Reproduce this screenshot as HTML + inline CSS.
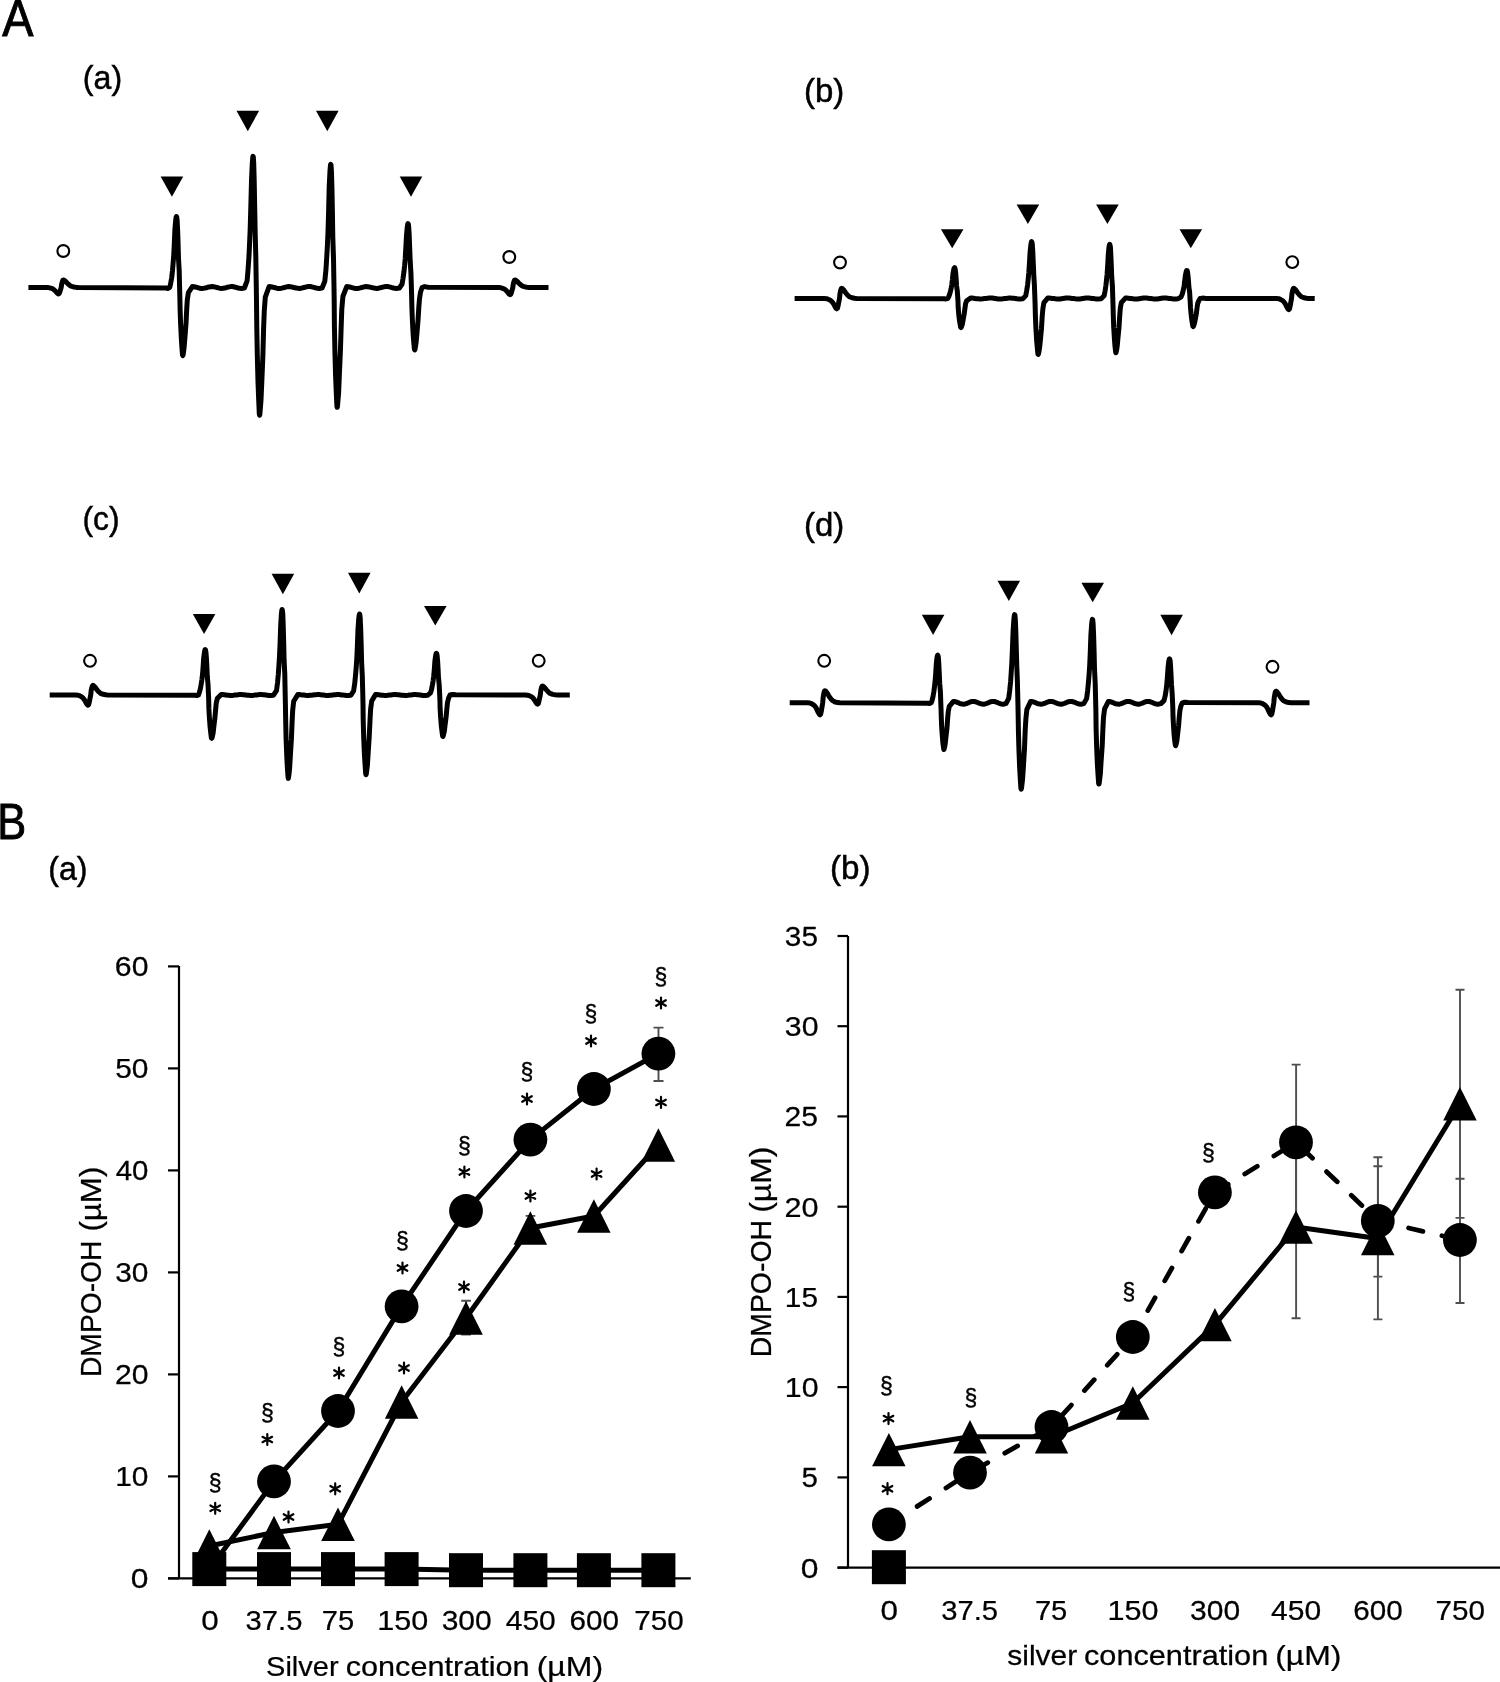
<!DOCTYPE html>
<html><head><meta charset="utf-8"><title>Figure</title>
<style>
html,body{margin:0;padding:0;background:#fff;}
body{width:1500px;height:1682px;overflow:hidden;font-family:"Liberation Sans",sans-serif;}
svg{display:block;will-change:transform;transform:translateZ(0);}
</style></head><body>
<svg width="1500" height="1682" viewBox="0 0 1500 1682" font-family="Liberation Sans, sans-serif" fill="#000">
<rect width="1500" height="1682" fill="#fff"/>
<path d="M28.4,287.5 L46.0,287.5 L48.3,287.6 L49.7,287.9 L52.4,288.7 L53.8,289.6 L55.0,290.6 L56.6,292.5 L57.7,293.6 L58.5,294.0 L59.2,293.5 L59.8,292.1 L60.4,290.1 L61.2,287.5 L61.7,283.9 L62.5,281.2 L63.0,280.2 L63.3,280.0 L64.1,280.2 L65.7,281.5 L67.1,283.0 L68.4,284.3 L69.7,285.3 L71.0,286.1 L73.7,287.0 L76.3,287.4 L78.3,287.5 L166.2,288.0 L168.1,288.5 L169.7,287.5 L170.6,283.9 L171.7,277.6 L172.5,270.5 L173.1,263.4 L173.7,255.6 L174.3,244.2 L174.9,229.6 L175.7,220.1 L176.2,216.9 L176.4,216.5 L176.7,216.9 L177.1,220.1 L177.6,229.6 L178.1,244.2 L178.5,258.6 L179.2,270.7 L179.6,287.5 L179.8,295.1 L180.1,309.3 L180.6,323.6 L181.3,337.9 L181.9,347.4 L182.5,354.9 L182.8,355.6 L183.1,354.9 L183.5,352.2 L184.1,347.4 L184.9,337.9 L186.0,323.6 L186.7,309.3 L187.3,299.8 L188.4,292.6 L192.3,286.6 L193.8,286.7 L195.4,287.0 L196.9,287.4 L198.4,287.8 L200.0,288.2 L201.5,288.4 L203.0,288.4 L204.6,288.1 L206.1,287.8 L207.6,287.3 L209.2,286.9 L210.7,286.7 L212.2,286.6 L213.8,286.8 L215.3,287.1 L216.9,287.5 L218.4,287.9 L219.9,288.2 L221.5,288.4 L223.0,288.3 L224.5,288.1 L226.1,287.7 L227.6,287.2 L229.1,286.9 L230.7,286.6 L232.2,286.6 L233.7,286.8 L235.3,287.2 L236.8,287.6 L238.3,288.0 L239.9,288.3 L241.4,288.4 L244.4,288.0 L247.1,280.9 L248.1,269.1 L249.0,256.0 L249.6,242.9 L250.2,228.5 L250.8,207.5 L251.5,180.6 L252.3,162.9 L252.8,157.0 L253.0,156.3 L253.3,157.0 L253.7,162.9 L254.2,180.6 L254.7,207.5 L255.2,234.1 L255.8,256.4 L256.3,287.5 L256.5,301.7 L256.8,328.4 L257.3,355.2 L258.0,382.1 L258.7,400.0 L259.3,414.0 L259.6,415.3 L259.9,414.0 L260.3,408.9 L261.0,400.0 L261.8,382.1 L262.9,355.2 L263.6,328.4 L264.3,310.5 L265.3,297.1 L269.1,286.6 L270.6,286.7 L272.1,287.0 L273.6,287.4 L275.2,287.8 L276.7,288.2 L278.2,288.4 L279.7,288.4 L281.2,288.2 L282.7,287.9 L284.3,287.5 L285.8,287.1 L287.3,286.7 L288.8,286.6 L290.3,286.7 L291.8,286.9 L293.3,287.3 L294.9,287.7 L296.4,288.1 L297.9,288.3 L299.4,288.4 L300.9,288.3 L302.4,287.9 L303.9,287.5 L305.5,287.1 L307.0,286.8 L308.5,286.6 L310.0,286.6 L311.5,286.8 L313.0,287.2 L314.6,287.6 L316.1,288.0 L317.6,288.3 L319.1,288.4 L322.1,288.0 L324.8,281.3 L325.9,270.3 L326.7,257.9 L327.4,245.6 L328.0,232.1 L328.6,212.3 L329.2,187.1 L330.0,170.5 L330.5,164.9 L330.7,164.3 L331.0,164.9 L331.4,170.5 L331.9,187.1 L332.4,212.3 L332.8,237.4 L333.5,258.3 L334.0,287.5 L334.2,300.8 L334.4,325.8 L334.9,351.0 L335.6,376.2 L336.3,392.9 L336.9,406.1 L337.2,407.3 L337.5,406.1 L337.9,401.3 L338.6,392.9 L339.3,376.2 L340.4,351.0 L341.2,325.8 L341.8,309.1 L342.9,296.5 L346.7,286.6 L348.2,286.7 L349.7,287.0 L351.2,287.4 L352.7,287.8 L354.2,288.2 L355.7,288.4 L357.2,288.4 L358.7,288.2 L360.3,287.9 L361.8,287.5 L363.3,287.1 L364.8,286.7 L366.3,286.6 L367.8,286.7 L369.3,286.9 L370.8,287.3 L372.3,287.7 L373.8,288.1 L375.3,288.3 L376.8,288.4 L378.3,288.3 L379.8,287.9 L381.3,287.5 L382.8,287.1 L384.4,286.8 L385.9,286.6 L387.4,286.6 L388.9,286.8 L390.4,287.2 L391.9,287.6 L393.4,288.0 L394.9,288.3 L396.4,288.4 L399.4,288.0 L402.0,284.3 L403.0,278.6 L403.9,272.2 L404.6,265.8 L405.2,258.7 L405.8,248.5 L406.5,235.4 L407.3,226.8 L407.8,223.9 L408.0,223.6 L408.3,223.9 L408.7,226.8 L409.2,235.4 L409.7,248.5 L410.2,261.5 L410.9,272.4 L411.4,287.5 L411.6,294.4 L411.9,307.5 L412.4,320.6 L413.1,333.8 L413.8,342.5 L414.4,349.4 L414.7,350.0 L415.0,349.4 L415.4,346.9 L416.1,342.5 L416.9,333.8 L418.0,320.6 L418.8,307.5 L419.5,298.8 L420.5,292.2 L422.1,287.5 L424.6,286.6 L428.1,287.2 L497.6,287.5 L499.9,287.6 L501.3,287.9 L504.0,288.8 L505.4,289.8 L506.6,290.9 L508.2,293.0 L509.3,294.2 L510.1,294.6 L510.8,294.1 L511.4,292.5 L512.0,290.3 L512.8,287.5 L513.3,283.9 L514.1,281.2 L514.6,280.2 L514.9,280.0 L515.7,280.2 L517.3,281.5 L518.7,283.0 L520.0,284.3 L521.3,285.3 L522.6,286.1 L525.3,287.0 L527.9,287.4 L529.9,287.5 L548.5,287.5" fill="none" stroke="#000" stroke-width="5.0" stroke-linejoin="round" stroke-linecap="butt"/>
<polygon points="160.6,176.6 183.2,176.6 171.9,196.8" fill="#000"/>
<polygon points="236.5,110.8 259.1,110.8 247.8,131.2" fill="#000"/>
<polygon points="316.0,110.8 338.6,110.8 327.3,131.2" fill="#000"/>
<polygon points="399.7,176.6 422.3,176.6 411.0,196.8" fill="#000"/>
<circle cx="63.3" cy="251.0" r="5.9" fill="#fff" stroke="#000" stroke-width="2.1"/>
<circle cx="509.3" cy="257.0" r="5.9" fill="#fff" stroke="#000" stroke-width="2.1"/>
<path d="M794.6,298.5 L824.3,298.5 L826.6,298.7 L828.0,299.1 L830.7,300.5 L832.1,301.8 L833.3,303.4 L834.9,306.4 L836.0,308.2 L836.8,308.8 L837.5,308.1 L838.1,305.7 L838.7,302.6 L839.5,298.5 L840.0,293.6 L840.8,289.9 L841.3,288.6 L841.6,288.3 L842.4,288.6 L844.0,290.3 L845.4,292.4 L846.7,294.1 L848.0,295.5 L849.3,296.7 L852.0,297.8 L854.6,298.3 L856.6,298.5 L944.1,298.7 L946.0,298.9 L947.7,298.5 L948.6,297.0 L949.7,294.2 L950.5,291.1 L951.2,288.0 L951.8,284.6 L952.4,279.7 L953.0,273.4 L953.8,269.2 L954.3,267.9 L954.5,267.7 L954.8,267.9 L955.2,269.2 L955.7,273.4 L956.2,279.7 L956.6,286.0 L957.3,291.2 L957.8,298.5 L958.0,301.7 L958.2,307.8 L958.7,313.9 L959.4,320.0 L960.1,324.0 L960.7,327.2 L961.0,327.5 L961.3,327.2 L961.7,326.1 L962.4,324.0 L963.1,320.0 L964.2,313.9 L965.0,307.8 L965.6,303.7 L966.7,300.7 L970.5,298.1 L972.0,298.1 L973.6,298.2 L975.1,298.5 L976.7,298.7 L978.2,298.8 L979.8,298.9 L981.3,298.9 L982.9,298.8 L984.4,298.6 L986.0,298.4 L987.5,298.2 L989.1,298.1 L990.6,298.1 L992.2,298.1 L993.7,298.3 L995.2,298.5 L996.8,298.7 L998.3,298.9 L999.9,298.9 L1001.4,298.9 L1003.0,298.8 L1004.5,298.6 L1006.1,298.4 L1007.6,298.2 L1009.2,298.1 L1010.7,298.1 L1012.3,298.2 L1013.8,298.3 L1015.4,298.5 L1016.9,298.8 L1018.5,298.9 L1020.0,298.9 L1023.0,298.7 L1025.7,295.7 L1026.7,290.5 L1027.6,284.8 L1028.2,279.2 L1028.8,272.9 L1029.4,263.8 L1030.1,252.1 L1030.9,244.4 L1031.4,241.9 L1031.6,241.6 L1031.9,241.9 L1032.3,244.4 L1032.8,252.1 L1033.3,263.8 L1033.8,275.3 L1034.4,285.0 L1034.9,298.5 L1035.1,304.7 L1035.4,316.4 L1035.9,328.2 L1036.6,339.9 L1037.3,347.8 L1037.9,353.9 L1038.2,354.5 L1038.5,353.9 L1038.9,351.7 L1039.6,347.8 L1040.4,339.9 L1041.5,328.2 L1042.2,316.4 L1042.9,308.6 L1043.9,302.7 L1047.7,298.1 L1049.2,298.1 L1050.8,298.2 L1052.3,298.4 L1053.8,298.6 L1055.3,298.8 L1056.9,298.9 L1058.4,298.9 L1059.9,298.9 L1061.4,298.7 L1063.0,298.5 L1064.5,298.3 L1066.0,298.1 L1067.6,298.1 L1069.1,298.1 L1070.6,298.2 L1072.1,298.4 L1073.7,298.6 L1075.2,298.8 L1076.7,298.9 L1078.2,298.9 L1079.8,298.9 L1081.3,298.7 L1082.8,298.5 L1084.4,298.3 L1085.9,298.1 L1087.4,298.1 L1088.9,298.1 L1090.5,298.2 L1092.0,298.4 L1093.5,298.6 L1095.0,298.8 L1096.6,298.9 L1098.1,298.9 L1101.1,298.7 L1104.1,295.8 L1105.1,290.9 L1105.9,285.5 L1106.5,280.1 L1107.1,274.2 L1107.7,265.5 L1108.3,254.4 L1109.0,247.1 L1109.5,244.7 L1109.7,244.4 L1109.9,244.7 L1110.4,247.1 L1110.8,254.4 L1111.3,265.5 L1111.7,276.5 L1112.4,285.7 L1112.8,298.5 L1113.0,304.5 L1113.3,315.8 L1113.7,327.2 L1114.4,338.6 L1115.0,346.2 L1115.7,352.2 L1115.9,352.7 L1116.1,352.2 L1116.6,350.0 L1117.2,346.2 L1117.9,338.6 L1119.0,327.2 L1119.7,315.8 L1120.3,308.3 L1121.3,302.6 L1125.4,298.1 L1126.9,298.1 L1128.4,298.2 L1129.9,298.4 L1131.4,298.6 L1132.9,298.8 L1134.5,298.9 L1136.0,298.9 L1137.5,298.9 L1139.0,298.7 L1140.5,298.5 L1142.0,298.3 L1143.5,298.1 L1145.0,298.1 L1146.5,298.1 L1148.0,298.2 L1149.5,298.4 L1151.1,298.6 L1152.6,298.8 L1154.1,298.9 L1155.6,298.9 L1157.1,298.9 L1158.6,298.7 L1160.1,298.5 L1161.6,298.3 L1163.1,298.1 L1164.6,298.1 L1166.1,298.1 L1167.7,298.2 L1169.2,298.4 L1170.7,298.6 L1172.2,298.8 L1173.7,298.9 L1175.2,298.9 L1178.2,298.7 L1181.0,297.1 L1182.1,294.6 L1182.9,291.8 L1183.5,289.0 L1184.1,285.9 L1184.7,281.4 L1185.3,275.7 L1186.1,271.9 L1186.6,270.6 L1186.8,270.5 L1187.1,270.6 L1187.5,271.9 L1188.0,275.7 L1188.5,281.4 L1188.9,287.1 L1189.6,291.9 L1190.0,298.5 L1190.2,301.6 L1190.5,307.5 L1191.0,313.3 L1191.7,319.2 L1192.3,323.1 L1192.9,326.2 L1193.2,326.5 L1193.5,326.2 L1193.9,325.1 L1194.5,323.1 L1195.3,319.2 L1196.4,313.3 L1197.1,307.5 L1197.7,303.5 L1198.8,300.6 L1200.2,298.5 L1202.7,298.1 L1206.0,298.4 L1276.3,298.5 L1278.6,298.7 L1280.0,299.2 L1282.7,300.6 L1284.1,302.1 L1285.3,303.9 L1286.9,307.1 L1288.0,309.0 L1288.8,309.7 L1289.5,308.9 L1290.1,306.3 L1290.7,303.0 L1291.5,298.5 L1292.0,293.6 L1292.8,289.9 L1293.3,288.6 L1293.6,288.3 L1294.4,288.6 L1296.0,290.3 L1297.4,292.4 L1298.7,294.1 L1300.0,295.5 L1301.3,296.7 L1304.0,297.8 L1306.6,298.3 L1308.6,298.5 L1314.7,298.5" fill="none" stroke="#000" stroke-width="5.0" stroke-linejoin="round" stroke-linecap="butt"/>
<polygon points="940.9,229.3 963.5,229.3 952.2,248.2" fill="#000"/>
<polygon points="1016.6,204.6 1039.2,204.6 1027.9,224.1" fill="#000"/>
<polygon points="1096.1,204.6 1118.7,204.6 1107.4,224.1" fill="#000"/>
<polygon points="1179.5,229.3 1202.1,229.3 1190.8,248.2" fill="#000"/>
<circle cx="840.0" cy="262.5" r="5.9" fill="#fff" stroke="#000" stroke-width="2.1"/>
<circle cx="1292.3" cy="262.1" r="5.9" fill="#fff" stroke="#000" stroke-width="2.1"/>
<path d="M49.7,695.0 L75.5,695.0 L77.8,695.2 L79.2,695.6 L81.9,696.9 L83.3,698.3 L84.5,699.9 L86.1,702.9 L87.2,704.6 L88.0,705.2 L88.7,704.5 L89.3,702.1 L89.9,699.1 L90.7,695.0 L91.2,690.4 L92.0,686.9 L92.5,685.7 L92.8,685.4 L93.6,685.7 L95.2,687.3 L96.6,689.2 L97.9,690.9 L99.2,692.2 L100.5,693.3 L103.2,694.3 L105.8,694.8 L107.8,695.0 L194.8,695.3 L196.8,695.6 L198.4,695.0 L199.3,692.7 L200.4,688.6 L201.2,684.1 L201.9,679.6 L202.5,674.6 L203.1,667.3 L203.7,658.0 L204.5,651.9 L205.0,649.8 L205.2,649.6 L205.5,649.8 L205.9,651.9 L206.4,658.0 L206.9,667.3 L207.3,676.5 L208.0,684.2 L208.5,695.0 L208.7,699.8 L208.9,708.9 L209.4,717.9 L210.1,727.0 L210.8,733.1 L211.4,737.9 L211.7,738.3 L212.0,737.9 L212.4,736.1 L213.1,733.1 L213.8,727.0 L214.9,717.9 L215.7,708.9 L216.3,702.8 L217.4,698.2 L221.2,694.6 L222.7,694.6 L224.3,694.8 L225.8,695.0 L227.4,695.2 L228.9,695.3 L230.4,695.4 L232.0,695.4 L233.5,695.3 L235.1,695.1 L236.6,694.9 L238.1,694.7 L239.7,694.6 L241.2,694.6 L242.8,694.7 L244.3,694.8 L245.8,695.0 L247.4,695.2 L248.9,695.3 L250.5,695.4 L252.0,695.4 L253.6,695.3 L255.1,695.1 L256.6,694.9 L258.2,694.7 L259.7,694.6 L261.3,694.6 L262.8,694.7 L264.3,694.8 L265.9,695.0 L267.4,695.2 L269.0,695.4 L270.5,695.4 L273.5,695.2 L276.5,690.7 L277.5,683.0 L278.3,674.5 L278.9,665.9 L279.5,656.5 L280.1,642.8 L280.7,625.3 L281.4,613.8 L281.9,609.9 L282.1,609.5 L282.3,609.9 L282.8,613.8 L283.2,625.3 L283.7,642.8 L284.1,660.2 L284.8,674.7 L285.2,695.0 L285.4,704.3 L285.7,721.7 L286.1,739.2 L286.8,756.7 L287.4,768.4 L288.1,777.6 L288.3,778.4 L288.5,777.6 L289.0,774.2 L289.6,768.4 L290.3,756.7 L291.4,739.2 L292.1,721.7 L292.7,710.0 L293.7,701.3 L297.8,694.6 L299.3,694.6 L300.8,694.8 L302.4,694.9 L303.9,695.1 L305.4,695.3 L306.9,695.4 L308.4,695.4 L309.9,695.3 L311.5,695.2 L313.0,695.0 L314.5,694.8 L316.0,694.7 L317.5,694.6 L319.1,694.6 L320.6,694.7 L322.1,694.9 L323.6,695.1 L325.1,695.3 L326.6,695.4 L328.2,695.4 L329.7,695.3 L331.2,695.2 L332.7,695.0 L334.2,694.8 L335.8,694.7 L337.3,694.6 L338.8,694.6 L340.3,694.7 L341.8,694.9 L343.3,695.1 L344.9,695.2 L346.4,695.4 L347.9,695.4 L350.9,695.2 L353.6,691.0 L354.7,683.7 L355.5,675.6 L356.2,667.5 L356.8,658.6 L357.4,645.7 L358.0,629.1 L358.8,618.1 L359.3,614.5 L359.5,614.1 L359.8,614.5 L360.2,618.1 L360.7,629.1 L361.2,645.7 L361.6,662.1 L362.3,675.8 L362.8,695.0 L363.0,703.8 L363.2,720.5 L363.7,737.2 L364.4,754.0 L365.1,765.1 L365.7,773.9 L366.0,774.7 L366.3,773.9 L366.7,770.7 L367.4,765.1 L368.1,754.0 L369.2,737.2 L370.0,720.5 L370.6,709.3 L371.7,701.0 L375.5,694.6 L377.0,694.6 L378.6,694.8 L380.1,695.0 L381.7,695.2 L383.2,695.3 L384.7,695.4 L386.3,695.4 L387.8,695.3 L389.4,695.1 L390.9,694.9 L392.4,694.7 L394.0,694.6 L395.5,694.6 L397.1,694.7 L398.6,694.8 L400.1,695.0 L401.7,695.2 L403.2,695.3 L404.8,695.4 L406.3,695.4 L407.9,695.3 L409.4,695.1 L410.9,694.9 L412.5,694.7 L414.0,694.6 L415.6,694.6 L417.1,694.7 L418.6,694.8 L420.2,695.0 L421.7,695.2 L423.3,695.4 L424.8,695.4 L427.8,695.2 L430.5,692.9 L431.6,689.2 L432.4,685.0 L433.1,680.8 L433.7,676.2 L434.3,669.6 L434.9,661.0 L435.7,655.4 L436.2,653.5 L436.4,653.3 L436.7,653.5 L437.1,655.4 L437.6,661.0 L438.1,669.6 L438.5,678.0 L439.2,685.1 L439.7,695.0 L439.9,699.6 L440.1,708.2 L440.6,716.9 L441.3,725.6 L442.0,731.4 L442.6,736.0 L442.9,736.4 L443.2,736.0 L443.6,734.3 L444.3,731.4 L445.0,725.6 L446.1,716.9 L446.9,708.2 L447.5,702.5 L448.6,698.1 L450.0,695.0 L452.5,694.4 L455.9,694.8 L525.1,695.0 L527.4,695.2 L528.8,695.5 L531.5,696.7 L532.9,697.9 L534.1,699.4 L535.7,702.0 L536.8,703.6 L537.6,704.1 L538.3,703.5 L538.9,701.4 L539.5,698.6 L540.3,695.0 L540.8,690.7 L541.6,687.4 L542.1,686.3 L542.4,686.0 L543.2,686.3 L544.8,687.8 L546.2,689.6 L547.5,691.1 L548.8,692.4 L550.1,693.4 L552.8,694.4 L555.4,694.8 L557.4,695.0 L569.8,695.0" fill="none" stroke="#000" stroke-width="5.0" stroke-linejoin="round" stroke-linecap="butt"/>
<polygon points="192.8,613.9 215.4,613.9 204.1,633.9" fill="#000"/>
<polygon points="271.6,573.8 294.2,573.8 282.9,594.2" fill="#000"/>
<polygon points="348.0,572.8 370.6,572.8 359.3,593.4" fill="#000"/>
<polygon points="424.0,605.9 446.6,605.9 435.3,625.5" fill="#000"/>
<circle cx="90.0" cy="660.8" r="5.9" fill="#fff" stroke="#000" stroke-width="2.1"/>
<circle cx="538.7" cy="660.8" r="5.9" fill="#fff" stroke="#000" stroke-width="2.1"/>
<path d="M789.7,702.8 L807.5,702.8 L809.8,703.0 L811.2,703.5 L813.9,705.1 L815.3,706.7 L816.5,708.6 L818.1,712.1 L819.2,714.2 L820.0,714.9 L820.7,714.1 L821.3,711.3 L821.9,707.6 L822.7,702.8 L823.2,697.0 L824.0,692.6 L824.5,691.1 L824.8,690.7 L825.6,691.1 L827.2,693.1 L828.6,695.5 L829.9,697.6 L831.2,699.3 L832.5,700.6 L835.2,702.0 L837.8,702.6 L839.8,702.8 L927.8,703.2 L929.6,703.5 L931.2,702.8 L932.1,700.4 L933.1,696.1 L933.9,691.4 L934.5,686.6 L935.1,681.4 L935.7,673.8 L936.3,664.0 L937.0,657.6 L937.5,655.4 L937.7,655.2 L937.9,655.4 L938.4,657.6 L938.8,664.0 L939.3,673.8 L939.7,683.4 L940.4,691.5 L940.8,702.8 L941.0,708.0 L941.3,717.7 L941.7,727.6 L942.4,737.4 L943.0,743.9 L943.7,749.0 L943.9,749.5 L944.1,749.0 L944.6,747.2 L945.2,743.9 L945.9,737.4 L947.0,727.6 L947.7,717.7 L948.3,711.2 L949.3,706.3 L953.4,701.4 L954.9,701.6 L956.4,702.0 L957.9,702.6 L959.4,703.3 L960.9,703.8 L962.4,704.1 L963.9,704.2 L965.4,703.9 L966.9,703.4 L968.4,702.7 L969.9,702.1 L971.4,701.6 L972.9,701.4 L974.4,701.5 L975.9,701.9 L977.4,702.5 L979.0,703.1 L980.5,703.7 L982.0,704.1 L983.5,704.2 L985.0,704.0 L986.5,703.5 L988.0,702.9 L989.5,702.2 L991.0,701.7 L992.5,701.4 L994.0,701.5 L995.5,701.8 L997.0,702.3 L998.5,703.0 L1000.0,703.6 L1001.5,704.0 L1003.0,704.2 L1006.0,703.6 L1008.7,698.4 L1009.7,690.5 L1010.6,681.7 L1011.2,672.8 L1011.8,663.2 L1012.4,649.1 L1013.1,631.0 L1013.9,619.1 L1014.4,615.1 L1014.6,614.7 L1014.9,615.1 L1015.3,619.1 L1015.8,631.0 L1016.3,649.1 L1016.8,666.9 L1017.4,681.9 L1017.9,702.8 L1018.1,712.4 L1018.4,730.4 L1018.9,748.6 L1019.6,766.7 L1020.3,778.8 L1020.9,788.3 L1021.2,789.2 L1021.5,788.3 L1021.9,784.9 L1022.6,778.8 L1023.4,766.7 L1024.5,748.6 L1025.2,730.4 L1025.9,718.4 L1026.9,709.3 L1030.7,701.4 L1032.2,701.6 L1033.7,702.0 L1035.3,702.6 L1036.8,703.3 L1038.3,703.8 L1039.8,704.1 L1041.3,704.2 L1042.8,703.9 L1044.4,703.4 L1045.9,702.7 L1047.4,702.1 L1048.9,701.6 L1050.4,701.4 L1052.0,701.5 L1053.5,701.9 L1055.0,702.5 L1056.5,703.1 L1058.0,703.7 L1059.5,704.1 L1061.1,704.2 L1062.6,704.0 L1064.1,703.5 L1065.6,702.9 L1067.1,702.2 L1068.7,701.7 L1070.2,701.4 L1071.7,701.5 L1073.2,701.8 L1074.7,702.3 L1076.2,703.0 L1077.8,703.6 L1079.3,704.0 L1080.8,704.2 L1083.8,703.6 L1086.6,698.6 L1087.6,691.1 L1088.4,682.8 L1089.1,674.4 L1089.7,665.3 L1090.3,651.9 L1090.9,634.8 L1091.7,623.6 L1092.2,619.8 L1092.4,619.4 L1092.7,619.8 L1093.1,623.6 L1093.6,634.8 L1094.1,651.9 L1094.5,668.9 L1095.2,683.0 L1095.7,702.8 L1095.9,711.8 L1096.1,728.8 L1096.6,745.8 L1097.3,762.9 L1098.0,774.3 L1098.6,783.2 L1098.9,784.0 L1099.2,783.2 L1099.6,779.9 L1100.3,774.3 L1101.0,762.9 L1102.2,745.8 L1102.9,728.8 L1103.5,717.4 L1104.6,708.9 L1108.4,701.4 L1109.9,701.6 L1111.4,702.0 L1112.9,702.6 L1114.4,703.3 L1115.9,703.8 L1117.4,704.1 L1118.9,704.2 L1120.4,703.9 L1121.9,703.4 L1123.4,702.7 L1124.9,702.1 L1126.4,701.6 L1127.9,701.4 L1129.4,701.5 L1130.9,701.9 L1132.4,702.5 L1133.9,703.1 L1135.4,703.7 L1136.9,704.1 L1138.4,704.2 L1139.9,704.0 L1141.4,703.5 L1142.9,702.9 L1144.4,702.2 L1145.9,701.7 L1147.4,701.4 L1148.9,701.5 L1150.4,701.8 L1151.9,702.3 L1153.4,703.0 L1154.9,703.6 L1156.4,704.0 L1157.9,704.2 L1160.9,703.6 L1164.0,700.6 L1165.0,696.7 L1165.8,692.3 L1166.4,687.9 L1166.9,683.0 L1167.5,676.0 L1168.1,667.0 L1168.8,661.1 L1169.3,659.1 L1169.5,658.9 L1169.7,659.1 L1170.2,661.1 L1170.6,667.0 L1171.1,676.0 L1171.5,684.9 L1172.1,692.4 L1172.6,702.8 L1172.8,707.6 L1173.0,716.5 L1173.5,725.5 L1174.1,734.5 L1174.7,740.6 L1175.4,745.3 L1175.6,745.7 L1175.8,745.3 L1176.3,743.6 L1176.9,740.6 L1177.6,734.5 L1178.6,725.5 L1179.3,716.5 L1179.9,710.5 L1180.9,706.0 L1182.3,702.8 L1184.6,702.2 L1187.8,702.6 L1258.6,702.8 L1260.9,703.0 L1262.3,703.5 L1265.0,705.1 L1266.4,706.7 L1267.6,708.6 L1269.2,712.1 L1270.3,714.2 L1271.1,714.9 L1271.8,714.1 L1272.4,711.3 L1273.0,707.6 L1273.8,702.8 L1274.3,697.2 L1275.1,693.1 L1275.6,691.5 L1275.9,691.2 L1276.7,691.5 L1278.3,693.5 L1279.7,695.8 L1281.0,697.8 L1282.3,699.4 L1283.6,700.7 L1286.3,702.0 L1288.9,702.6 L1290.9,702.8 L1309.5,702.8" fill="none" stroke="#000" stroke-width="5.0" stroke-linejoin="round" stroke-linecap="butt"/>
<polygon points="921.8,614.8 944.4,614.8 933.1,634.9" fill="#000"/>
<polygon points="997.5,580.7 1020.1,580.7 1008.8,600.9" fill="#000"/>
<polygon points="1081.4,582.8 1104.0,582.8 1092.7,602.2" fill="#000"/>
<polygon points="1160.3,614.8 1182.9,614.8 1171.6,635.2" fill="#000"/>
<circle cx="824.2" cy="660.8" r="5.9" fill="#fff" stroke="#000" stroke-width="2.1"/>
<circle cx="1272.5" cy="666.8" r="5.9" fill="#fff" stroke="#000" stroke-width="2.1"/>
<text transform="translate(2.2,35.7) scale(0.9,1)" font-size="52" stroke="#000" stroke-width="0.9">A</text>
<text transform="translate(-2.7,839.2) scale(0.86,1)" font-size="50.5" stroke="#000" stroke-width="0.9">B</text>
<text transform="translate(82.8,88.6) scale(0.96,1)" font-size="33.5" stroke="#000" stroke-width="0.5">(a)</text>
<text transform="translate(804.0,102.4) scale(0.985,1)" font-size="33.5" stroke="#000" stroke-width="0.5">(b)</text>
<text transform="translate(82.5,529.8) scale(0.95,1)" font-size="33.5" stroke="#000" stroke-width="0.5">(c)</text>
<text transform="translate(804.0,535.7) scale(0.985,1)" font-size="33.5" stroke="#000" stroke-width="0.5">(d)</text>
<text transform="translate(48.2,879.6) scale(0.96,1)" font-size="33.5" stroke="#000" stroke-width="0.5">(a)</text>
<text transform="translate(830.0,879.3) scale(0.99,1)" font-size="33.5" stroke="#000" stroke-width="0.5">(b)</text>
<path d="M179,966 V1578.4 M168,1578.4 H690.8" stroke="#000" stroke-width="2.2" fill="none"/>
<line x1="168" x2="179" y1="1578.4" y2="1578.4" stroke="#000" stroke-width="2.2"/>
<text transform="translate(130.86,1588.4) scale(1.1157,1)" font-size="28.5" stroke="#000" stroke-width="0.25">0</text>
<line x1="168" x2="179" y1="1476.4" y2="1476.4" stroke="#000" stroke-width="2.2"/>
<text transform="translate(115.22,1486.4) scale(1.0487,1)" font-size="28.5" stroke="#000" stroke-width="0.25">10</text>
<line x1="168" x2="179" y1="1374.4" y2="1374.4" stroke="#000" stroke-width="2.2"/>
<text transform="translate(114.88,1384.4) scale(1.0599,1)" font-size="28.5" stroke="#000" stroke-width="0.25">20</text>
<line x1="168" x2="179" y1="1272.4" y2="1272.4" stroke="#000" stroke-width="2.2"/>
<text transform="translate(115.26,1282.4) scale(1.0474,1)" font-size="28.5" stroke="#000" stroke-width="0.25">30</text>
<line x1="168" x2="179" y1="1170.4" y2="1170.4" stroke="#000" stroke-width="2.2"/>
<text transform="translate(115.72,1180.4) scale(1.0323,1)" font-size="28.5" stroke="#000" stroke-width="0.25">40</text>
<line x1="168" x2="179" y1="1068.4" y2="1068.4" stroke="#000" stroke-width="2.2"/>
<text transform="translate(115.20,1078.4) scale(1.0494,1)" font-size="28.5" stroke="#000" stroke-width="0.25">50</text>
<line x1="168" x2="179" y1="966.4" y2="966.4" stroke="#000" stroke-width="2.2"/>
<text transform="translate(114.87,976.4) scale(1.0604,1)" font-size="28.5" stroke="#000" stroke-width="0.25">60</text>
<text transform="translate(201.27,1630.0) scale(1.1010,1)" font-size="28.5" stroke="#000" stroke-width="0.25">0</text>
<text transform="translate(245.59,1630.0) scale(1.0247,1)" font-size="28.5" stroke="#000" stroke-width="0.25">37.5</text>
<text transform="translate(321.81,1630.0) scale(1.0226,1)" font-size="28.5" stroke="#000" stroke-width="0.25">75</text>
<text transform="translate(377.37,1630.0) scale(1.0730,1)" font-size="28.5" stroke="#000" stroke-width="0.25">150</text>
<text transform="translate(441.66,1630.0) scale(1.0518,1)" font-size="28.5" stroke="#000" stroke-width="0.25">300</text>
<text transform="translate(505.71,1630.0) scale(1.0528,1)" font-size="28.5" stroke="#000" stroke-width="0.25">450</text>
<text transform="translate(569.59,1630.0) scale(1.0402,1)" font-size="28.5" stroke="#000" stroke-width="0.25">600</text>
<text transform="translate(634.18,1630.0) scale(1.0405,1)" font-size="28.5" stroke="#000" stroke-width="0.25">750</text>
<text transform="translate(266.08,1675.7) scale(1.0173,1)" font-size="28.5" stroke="#000" stroke-width="0.25">Silver</text>
<text transform="translate(345.70,1675.7) scale(1.0747,1)" font-size="28.5" stroke="#000" stroke-width="0.25">concentration</text>
<text transform="translate(536.72,1675.7) scale(1.1221,1)" font-size="28.5" stroke="#000" stroke-width="0.25">(µM)</text>
<text transform="translate(100.8,1377.02) rotate(-90) scale(0.9674,1)" font-size="29.2" stroke="#000" stroke-width="0.25">DMPO-OH</text>
<text transform="translate(100.8,1231.54) rotate(-90) scale(1.0707,1)" font-size="29.2" stroke="#000" stroke-width="0.25">(µM)</text>
<path d="M658.5,1027.6 V1081.0 M653.5,1027.6 h10 M653.5,1081.0 h10" stroke="#4f4f4f" stroke-width="1.9" fill="none"/>
<path d="M466.1,1300.8 V1334.5 M461.2,1300.8 h9.7 M461.2,1334.5 h9.7" stroke="#4f4f4f" stroke-width="1.9" fill="none"/>
<path d="M530.5,1215.9 V1240.0 M525.6,1215.9 h9.7 M525.6,1240.0 h9.7" stroke="#4f4f4f" stroke-width="1.9" fill="none"/>
<polyline points="209.3,1569.5 274.0,1481.4 338.0,1411.0 401.6,1306.4 466.0,1211.0 530.4,1139.6 593.9,1089.0 658.4,1053.6" fill="none" stroke="#000" stroke-width="5" stroke-linejoin="round"/>
<polyline points="209.3,1546.0 274.0,1532.5 338.0,1524.3 401.6,1402.0 466.0,1318.0 530.4,1228.0 593.9,1216.0 658.4,1145.0" fill="none" stroke="#000" stroke-width="5" stroke-linejoin="round"/>
<polyline points="209.3,1569.1 274.0,1569.1 338.0,1569.1 401.6,1569.1 466.0,1570.2 530.4,1570.2 593.9,1570.2 658.4,1570.2" fill="none" stroke="#000" stroke-width="5" stroke-linejoin="round"/>
<circle cx="274.0" cy="1481.4" r="16.9" fill="#000"/>
<circle cx="338.0" cy="1411.0" r="16.9" fill="#000"/>
<circle cx="401.6" cy="1306.4" r="16.9" fill="#000"/>
<circle cx="466.0" cy="1211.0" r="16.9" fill="#000"/>
<circle cx="530.4" cy="1139.6" r="16.9" fill="#000"/>
<circle cx="593.9" cy="1089.0" r="16.9" fill="#000"/>
<circle cx="658.4" cy="1053.6" r="16.9" fill="#000"/>
<polygon points="209.3,1529.3 226.1,1562.7 192.6,1562.7" fill="#000"/>
<polygon points="274.0,1515.8 290.8,1549.2 257.2,1549.2" fill="#000"/>
<polygon points="338.0,1507.6 354.8,1541.0 321.2,1541.0" fill="#000"/>
<polygon points="401.6,1385.3 418.4,1418.7 384.9,1418.7" fill="#000"/>
<polygon points="466.0,1301.3 482.8,1334.7 449.2,1334.7" fill="#000"/>
<polygon points="530.4,1211.3 547.1,1244.7 513.6,1244.7" fill="#000"/>
<polygon points="593.9,1199.3 610.6,1232.7 577.1,1232.7" fill="#000"/>
<polygon points="658.4,1128.3 675.1,1161.7 641.6,1161.7" fill="#000"/>
<rect x="192.3" y="1552.1" width="34" height="34" fill="#000"/>
<rect x="257.0" y="1552.1" width="34" height="34" fill="#000"/>
<rect x="321.0" y="1552.1" width="34" height="34" fill="#000"/>
<rect x="384.6" y="1552.1" width="34" height="34" fill="#000"/>
<rect x="449.0" y="1553.2" width="34" height="34" fill="#000"/>
<rect x="513.4" y="1553.2" width="34" height="34" fill="#000"/>
<rect x="576.9" y="1553.2" width="34" height="34" fill="#000"/>
<rect x="641.4" y="1553.2" width="34" height="34" fill="#000"/>
<text x="215.2" y="1490.8" font-size="23" text-anchor="middle" stroke="#000" stroke-width="0.4">§</text>
<path d="M215.2,1502.8 L215.2,1513.8 M220.0,1505.5 L210.4,1511.0 M220.0,1511.0 L210.4,1505.5" stroke="#000" stroke-width="2.2" stroke-linecap="round" fill="none"/>
<text x="267.3" y="1421.4" font-size="23" text-anchor="middle" stroke="#000" stroke-width="0.4">§</text>
<path d="M267.3,1434.0 L267.3,1445.0 M272.1,1436.8 L262.5,1442.2 M272.1,1442.2 L262.5,1436.8" stroke="#000" stroke-width="2.2" stroke-linecap="round" fill="none"/>
<text x="339.0" y="1354.8" font-size="23" text-anchor="middle" stroke="#000" stroke-width="0.4">§</text>
<path d="M339.0,1367.5 L339.0,1378.5 M343.8,1370.2 L334.2,1375.8 M343.8,1375.8 L334.2,1370.2" stroke="#000" stroke-width="2.2" stroke-linecap="round" fill="none"/>
<text x="402.5" y="1249.2" font-size="23" text-anchor="middle" stroke="#000" stroke-width="0.4">§</text>
<path d="M402.5,1262.5 L402.5,1273.5 M407.3,1265.2 L397.7,1270.8 M407.3,1270.8 L397.7,1265.2" stroke="#000" stroke-width="2.2" stroke-linecap="round" fill="none"/>
<text x="464.4" y="1153.8" font-size="23" text-anchor="middle" stroke="#000" stroke-width="0.4">§</text>
<path d="M464.4,1166.5 L464.4,1177.5 M469.2,1169.2 L459.6,1174.8 M469.2,1174.8 L459.6,1169.2" stroke="#000" stroke-width="2.2" stroke-linecap="round" fill="none"/>
<text x="527.0" y="1080.2" font-size="23" text-anchor="middle" stroke="#000" stroke-width="0.4">§</text>
<path d="M527.0,1093.5 L527.0,1104.5 M531.8,1096.2 L522.2,1101.8 M531.8,1101.8 L522.2,1096.2" stroke="#000" stroke-width="2.2" stroke-linecap="round" fill="none"/>
<text x="591.0" y="1022.2" font-size="23" text-anchor="middle" stroke="#000" stroke-width="0.4">§</text>
<path d="M591.0,1035.5 L591.0,1046.5 M595.8,1038.2 L586.2,1043.8 M595.8,1043.8 L586.2,1038.2" stroke="#000" stroke-width="2.2" stroke-linecap="round" fill="none"/>
<text x="661.0" y="984.8" font-size="23" text-anchor="middle" stroke="#000" stroke-width="0.4">§</text>
<path d="M661.0,997.5 L661.0,1008.5 M665.8,1000.2 L656.2,1005.8 M665.8,1005.8 L656.2,1000.2" stroke="#000" stroke-width="2.2" stroke-linecap="round" fill="none"/>
<path d="M288.5,1511.5 L288.5,1522.5 M293.3,1514.2 L283.7,1519.8 M293.3,1519.8 L283.7,1514.2" stroke="#000" stroke-width="2.2" stroke-linecap="round" fill="none"/>
<path d="M335.2,1483.3 L335.2,1494.3 M340.0,1486.0 L330.4,1491.5 M340.0,1491.5 L330.4,1486.0" stroke="#000" stroke-width="2.2" stroke-linecap="round" fill="none"/>
<path d="M404.0,1362.5 L404.0,1373.5 M408.8,1365.2 L399.2,1370.8 M408.8,1370.8 L399.2,1365.2" stroke="#000" stroke-width="2.2" stroke-linecap="round" fill="none"/>
<path d="M464.0,1281.5 L464.0,1292.5 M468.8,1284.2 L459.2,1289.8 M468.8,1289.8 L459.2,1284.2" stroke="#000" stroke-width="2.2" stroke-linecap="round" fill="none"/>
<path d="M530.4,1190.5 L530.4,1201.5 M535.2,1193.2 L525.6,1198.8 M535.2,1198.8 L525.6,1193.2" stroke="#000" stroke-width="2.2" stroke-linecap="round" fill="none"/>
<path d="M596.6,1168.5 L596.6,1179.5 M601.4,1171.2 L591.8,1176.8 M601.4,1176.8 L591.8,1171.2" stroke="#000" stroke-width="2.2" stroke-linecap="round" fill="none"/>
<path d="M661.0,1096.9 L661.0,1107.9 M665.8,1099.7 L656.2,1105.2 M665.8,1105.2 L656.2,1099.7" stroke="#000" stroke-width="2.2" stroke-linecap="round" fill="none"/>
<path d="M848,936 V1567.6 M837.5,1567.6 H1500" stroke="#000" stroke-width="2.2" fill="none"/>
<line x1="837.5" x2="848" y1="1567.6" y2="1567.6" stroke="#000" stroke-width="2.2"/>
<text transform="translate(800.86,1577.6) scale(1.1157,1)" font-size="28.5" stroke="#000" stroke-width="0.25">0</text>
<line x1="837.5" x2="848" y1="1477.4" y2="1477.4" stroke="#000" stroke-width="2.2"/>
<text transform="translate(801.52,1487.4) scale(1.0361,1)" font-size="28.5" stroke="#000" stroke-width="0.25">5</text>
<line x1="837.5" x2="848" y1="1387.1" y2="1387.1" stroke="#000" stroke-width="2.2"/>
<text transform="translate(784.79,1397.1) scale(1.0628,1)" font-size="28.5" stroke="#000" stroke-width="0.25">10</text>
<line x1="837.5" x2="848" y1="1296.9" y2="1296.9" stroke="#000" stroke-width="2.2"/>
<text transform="translate(784.83,1306.9) scale(1.0447,1)" font-size="28.5" stroke="#000" stroke-width="0.25">15</text>
<line x1="837.5" x2="848" y1="1206.7" y2="1206.7" stroke="#000" stroke-width="2.2"/>
<text transform="translate(784.46,1216.7) scale(1.0736,1)" font-size="28.5" stroke="#000" stroke-width="0.25">20</text>
<line x1="837.5" x2="848" y1="1116.4" y2="1116.4" stroke="#000" stroke-width="2.2"/>
<text transform="translate(784.49,1126.4) scale(1.0561,1)" font-size="28.5" stroke="#000" stroke-width="0.25">25</text>
<line x1="837.5" x2="848" y1="1026.2" y2="1026.2" stroke="#000" stroke-width="2.2"/>
<text transform="translate(784.85,1036.2) scale(1.0609,1)" font-size="28.5" stroke="#000" stroke-width="0.25">30</text>
<line x1="837.5" x2="848" y1="936.0" y2="936.0" stroke="#000" stroke-width="2.2"/>
<text transform="translate(784.87,946.0) scale(1.0436,1)" font-size="28.5" stroke="#000" stroke-width="0.25">35</text>
<text transform="translate(880.52,1620.2) scale(1.1010,1)" font-size="28.5" stroke="#000" stroke-width="0.25">0</text>
<text transform="translate(941.24,1620.2) scale(1.0247,1)" font-size="28.5" stroke="#000" stroke-width="0.25">37.5</text>
<text transform="translate(1034.91,1620.2) scale(1.0226,1)" font-size="28.5" stroke="#000" stroke-width="0.25">75</text>
<text transform="translate(1107.62,1620.2) scale(1.0730,1)" font-size="28.5" stroke="#000" stroke-width="0.25">150</text>
<text transform="translate(1190.06,1620.2) scale(1.0518,1)" font-size="28.5" stroke="#000" stroke-width="0.25">300</text>
<text transform="translate(1271.11,1620.2) scale(1.0528,1)" font-size="28.5" stroke="#000" stroke-width="0.25">450</text>
<text transform="translate(1353.24,1620.2) scale(1.0402,1)" font-size="28.5" stroke="#000" stroke-width="0.25">600</text>
<text transform="translate(1435.43,1620.2) scale(1.0405,1)" font-size="28.5" stroke="#000" stroke-width="0.25">750</text>
<text transform="translate(1007.27,1665.1) scale(1.0500,1)" font-size="28.5" stroke="#000" stroke-width="0.25">silver</text>
<text transform="translate(1084.00,1665.1) scale(1.0765,1)" font-size="28.5" stroke="#000" stroke-width="0.25">concentration</text>
<text transform="translate(1275.22,1665.1) scale(1.1203,1)" font-size="28.5" stroke="#000" stroke-width="0.25">(µM)</text>
<text transform="translate(770.7,1357.33) rotate(-90) scale(0.9740,1)" font-size="29.2" stroke="#000" stroke-width="0.25">DMPO-OH</text>
<text transform="translate(770.7,1212.78) rotate(-90) scale(1.0935,1)" font-size="29.2" stroke="#000" stroke-width="0.25">(µM)</text>
<path d="M1296.1,1064.6 V1220.0 M1291.6,1064.6 h9 M1291.6,1220.0 h9" stroke="#4f4f4f" stroke-width="1.9" fill="none"/>
<path d="M1296.1,1136.0 V1318.2 M1291.6,1136.0 h9 M1291.6,1318.2 h9" stroke="#4f4f4f" stroke-width="1.9" fill="none"/>
<path d="M1377.9,1166.3 V1276.6 M1373.4,1166.3 h9 M1373.4,1276.6 h9" stroke="#4f4f4f" stroke-width="1.9" fill="none"/>
<path d="M1377.9,1157.3 V1319.4 M1373.4,1157.3 h9 M1373.4,1319.4 h9" stroke="#4f4f4f" stroke-width="1.9" fill="none"/>
<path d="M1460.0,989.7 V1217.9 M1455.5,989.7 h9 M1455.5,1217.9 h9" stroke="#4f4f4f" stroke-width="1.9" fill="none"/>
<path d="M1460.0,1178.7 V1303.0 M1455.5,1178.7 h9 M1455.5,1303.0 h9" stroke="#4f4f4f" stroke-width="1.9" fill="none"/>
<polyline points="888.9,1449.6 970.0,1436.8 1051.5,1436.8 1132.8,1403.0 1214.9,1324.6 1296.0,1227.0 1377.8,1238.5 1459.9,1103.8" fill="none" stroke="#000" stroke-width="5" stroke-linejoin="round"/>
<polyline points="888.9,1524.4 970.0,1472.6 1051.5,1427.0 1132.8,1337.0 1214.9,1192.4 1296.0,1142.3 1377.8,1220.8 1459.9,1240.0" fill="none" stroke="#000" stroke-width="4.8" stroke-linejoin="round" stroke-dasharray="14.7 19.5" stroke-dashoffset="0.7" stroke-linecap="round"/>
<polygon points="888.9,1432.9 905.6,1466.2 872.1,1466.2" fill="#000"/>
<polygon points="970.0,1420.1 986.8,1453.5 953.2,1453.5" fill="#000"/>
<polygon points="1051.5,1420.1 1068.2,1453.5 1034.8,1453.5" fill="#000"/>
<polygon points="1132.8,1386.3 1149.5,1419.7 1116.0,1419.7" fill="#000"/>
<polygon points="1214.9,1307.9 1231.7,1341.2 1198.2,1341.2" fill="#000"/>
<polygon points="1296.0,1210.3 1312.8,1243.7 1279.2,1243.7" fill="#000"/>
<polygon points="1377.8,1221.8 1394.5,1255.2 1361.0,1255.2" fill="#000"/>
<polygon points="1459.9,1087.1 1476.7,1120.5 1443.2,1120.5" fill="#000"/>
<circle cx="888.9" cy="1524.4" r="16.9" fill="#000"/>
<circle cx="970.0" cy="1472.6" r="16.9" fill="#000"/>
<circle cx="1051.5" cy="1427.0" r="16.9" fill="#000"/>
<circle cx="1132.8" cy="1337.0" r="16.9" fill="#000"/>
<circle cx="1214.9" cy="1192.4" r="16.9" fill="#000"/>
<circle cx="1296.0" cy="1142.3" r="16.9" fill="#000"/>
<circle cx="1377.8" cy="1220.8" r="16.9" fill="#000"/>
<circle cx="1459.9" cy="1240.0" r="16.9" fill="#000"/>
<rect x="871.9" y="1550.2" width="34" height="34" fill="#000"/>
<text x="886.4" y="1393.7" font-size="23" text-anchor="middle" stroke="#000" stroke-width="0.4">§</text>
<path d="M888.5,1413.1 L888.5,1424.1 M893.3,1415.8 L883.7,1421.3 M893.3,1421.3 L883.7,1415.8" stroke="#000" stroke-width="2.2" stroke-linecap="round" fill="none"/>
<path d="M887.5,1483.2 L887.5,1494.2 M892.3,1486.0 L882.7,1491.5 M892.3,1491.5 L882.7,1486.0" stroke="#000" stroke-width="2.2" stroke-linecap="round" fill="none"/>
<text x="970.8" y="1405.6" font-size="23" text-anchor="middle" stroke="#000" stroke-width="0.4">§</text>
<text x="1129.0" y="1299.8" font-size="23" text-anchor="middle" stroke="#000" stroke-width="0.4">§</text>
<text x="1208.4" y="1160.8" font-size="23" text-anchor="middle" stroke="#000" stroke-width="0.4">§</text>
</svg>
</body></html>
